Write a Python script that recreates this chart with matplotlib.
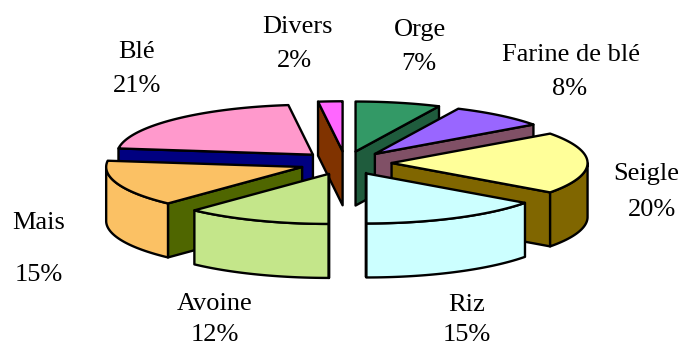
import numpy as np
import matplotlib
matplotlib.use("Agg")
import matplotlib.pyplot as plt
from matplotlib.patches import Polygon

# clockwise from twelve o'clock
names = ["Orge", "Farine de blé", "Seigle", "Riz", "Avoine", "Mais", "Blé", "Divers"]
values = [7, 8, 20, 15, 12, 15, 21, 2]

top_colors = ["#339966", "#9966FF", "#FFFF99", "#CCFFFF", "#C4E68A", "#FBC164", "#FF99CC", "#FF66FF"]
rim_colors = ["#1F5C3D", "#805066", "#806600", "#CCFFFF", "#C4E68A", "#FBC164", "#000080", "#803300"]
wall_colors = ["#1F5C3D", "#805066", "#806600", "#CCFFFF", "#C4E68A", "#4F6600", "#000080", "#803300"]

# where the two text lines of each label go
name_pos = [(420, 30), (571, 55), (646, 174), (467, 305), (215, 304), (39, 223), (137, 52), (297, 27)]
pct_pos = [(419, 64), (570, 89), (652, 210), (467, 335), (215, 335), (39, 275), (137, 86), (294, 61)]

# drawing order, back to front
order = [6, 7, 0, 1, 2, 5, 4, 3]

CX, CY = 345.5, 163
RX, RY = 196, 50
DEPTH = 54
EXPLODE = 0.235
LW = 1.7


def rim_point(ax0, ay0, deg):
    t = np.radians(deg)
    return ax0 + RX * np.sin(t), ay0 - RY * np.cos(t)


def draw_slice(ax, start, end, top, rim, wall):
    mid = np.radians((start + end) / 2)
    ax0 = CX + EXPLODE * RX * np.sin(mid)
    ay0 = CY - EXPLODE * RY * np.cos(mid)

    # the cut face that looks towards the viewer: end edge on the right half, start edge on the left
    edge = end if end <= 180 else start
    ex, ey = rim_point(ax0, ay0, edge)
    pts = [(ax0, ay0), (ex, ey), (ex, ey + DEPTH), (ax0, ay0 + DEPTH)]
    ax.add_patch(Polygon(pts, closed=True, fc=wall, ec="black", lw=LW, joinstyle="round"))

    # outer rim, only the front half of the ellipse shows
    a = max(start, 90)
    b = min(end, 270)
    if b > a:
        deg = np.linspace(a, b, 50)
        xs, ys = rim_point(ax0, ay0, deg)
        pts = np.concatenate([np.c_[xs, ys], np.c_[xs, ys + DEPTH][::-1]])
        ax.add_patch(Polygon(pts, closed=True, fc=rim, ec="black", lw=LW, joinstyle="round"))

    # top face
    deg = np.linspace(start, end, 60)
    xs, ys = rim_point(ax0, ay0, deg)
    pts = np.concatenate([[(ax0, ay0)], np.c_[xs, ys]])
    ax.add_patch(Polygon(pts, closed=True, fc=top, ec="black", lw=LW, joinstyle="round"))


fig = plt.figure(figsize=(6.83, 3.47), dpi=100)
ax = fig.add_axes([0, 0, 1, 1])
ax.set_xlim(0, 683)
ax.set_ylim(347, 0)
ax.axis("off")

edges = np.cumsum([0] + values) / np.sum(values) * 360
for i in order:
    draw_slice(ax, edges[i], edges[i + 1], top_colors[i], rim_colors[i], wall_colors[i])

for i in range(len(names)):
    ax.text(name_pos[i][0], name_pos[i][1], names[i], ha="center", va="center",
            family="Liberation Serif", fontsize=19)
    ax.text(pct_pos[i][0], pct_pos[i][1], "%d%%" % values[i], ha="center", va="center",
            family="Liberation Serif", fontsize=19)

fig.savefig("out.png", dpi=100)
